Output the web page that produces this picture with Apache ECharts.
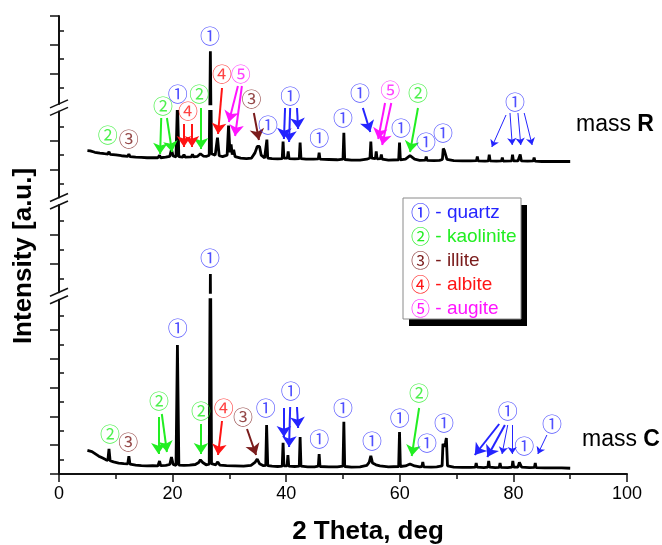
<!DOCTYPE html>
<html>
<head>
<meta charset="utf-8">
<title>XRD patterns of mass R and mass C</title>
<script src="https://cdn.jsdelivr.net/npm/echarts@6/dist/echarts.min.js"></script>
<style>
  html, body { margin: 0; padding: 0; background: #fff; }
  #chart { width: 662px; height: 545px; }
</style>
</head>
<body>
<div id="chart"></div>
<script>
const FONT = '"Liberation Sans", Arial, sans-serif';
const CIRCLE_FONT = '"Noto Sans CJK SC", "DejaVu Sans", sans-serif';

// mineral phases
const PHASES = ['quartz', 'kaolinite', 'illite', 'albite', 'augite'];
const PHASE_MARKS = ['①', '②', '③', '④', '⑤'];
const PHASE_COLORS = ['#2424ff', '#22ee22', '#7a1c1c', '#ff1414', '#ff14ff'];

// mass C diffractogram: [2 theta, intensity a.u.]
const massC = [
  [5.0, 0.82], [5.3, 0.84], [5.8, 0.78], [6.4, 0.70], [7.0, 0.62], [7.6, 0.56], [8.2, 0.50],
  [8.6, 0.47], [8.8, 0.87], [9.0, 0.46], [9.6, 0.42], [10.5, 0.38], [11.4, 0.36], [12.1, 0.35],
  [12.3, 0.62], [12.5, 0.34], [13.5, 0.31], [14.5, 0.29], [15.5, 0.28], [16.5, 0.29], [17.4, 0.28],
  [17.7, 0.45], [17.9, 0.29], [18.8, 0.30], [19.5, 0.33], [19.8, 0.59], [20.1, 0.33], [20.6, 0.30],
  [20.85, 4.48], [21.1, 0.31], [22.0, 0.30], [23.0, 0.31], [24.0, 0.33], [24.6, 0.40], [24.9, 0.49],
  [25.3, 0.40], [25.9, 0.32], [26.45, 0.34], [26.65, 8.65], [26.85, 0.36], [27.6, 0.32], [27.95, 0.42],
  [28.3, 0.31], [29.5, 0.29], [31.0, 0.28], [32.5, 0.27], [33.8, 0.30], [34.5, 0.40], [34.9, 0.52],
  [35.3, 0.36], [36.0, 0.29], [36.4, 0.30], [36.55, 1.70], [36.75, 0.29], [37.5, 0.27], [38.5, 0.26],
  [39.3, 0.27], [39.45, 1.08], [39.6, 0.28], [40.15, 0.28], [40.3, 0.66], [40.45, 0.27], [41.5, 0.26],
  [42.3, 0.27], [42.45, 1.28], [42.6, 0.27], [43.8, 0.25], [45.0, 0.25], [45.65, 0.27], [45.8, 0.69],
  [45.95, 0.26], [47.5, 0.25], [49.0, 0.25], [50.0, 0.27], [50.15, 1.81], [50.3, 0.26], [51.5, 0.24],
  [53.0, 0.25], [54.2, 0.30], [54.6, 0.40], [54.9, 0.63], [55.2, 0.38], [55.8, 0.32], [56.5, 0.28],
  [58.0, 0.25], [59.8, 0.26], [59.95, 1.46], [60.1, 0.26], [61.0, 0.28], [61.8, 0.35], [62.6, 0.28],
  [63.5, 0.25], [63.9, 0.26], [64.05, 0.42], [64.2, 0.25], [65.5, 0.24], [66.5, 0.25], [67.45, 0.28],
  [67.6, 1.05], [67.85, 0.95], [68.05, 1.10], [68.2, 1.25], [68.4, 0.28], [69.5, 0.24], [71.0, 0.23],
  [72.5, 0.23], [73.3, 0.24], [73.45, 0.38], [73.6, 0.24], [74.8, 0.22], [75.5, 0.24], [75.65, 0.45],
  [75.8, 0.24], [76.8, 0.22], [77.5, 0.23], [77.65, 0.38], [77.8, 0.23], [79.0, 0.22], [79.75, 0.24],
  [79.9, 0.45], [80.05, 0.24], [80.8, 0.24], [81.05, 0.40], [81.25, 0.42], [81.45, 0.24], [82.8, 0.22],
  [83.7, 0.23], [83.85, 0.38], [84.0, 0.22], [85.5, 0.21], [87.0, 0.21], [88.5, 0.21], [90.0, 0.20]
];

// mass R diffractogram: [2 theta, intensity a.u.], drawn shifted up by R_SHIFT
const massR = [
  [5.0, 0.66], [5.5, 0.65], [6.3, 0.60], [7.2, 0.57], [8.0, 0.55], [8.6, 0.54], [8.8, 0.62],
  [9.0, 0.53], [10.0, 0.51], [11.0, 0.48], [12.1, 0.46], [12.3, 0.54], [12.5, 0.45], [13.5, 0.43],
  [14.5, 0.42], [15.5, 0.41], [16.5, 0.41], [17.4, 0.41], [17.7, 0.49], [17.9, 0.41], [18.8, 0.43],
  [19.5, 0.46], [19.8, 0.69], [20.1, 0.47], [20.6, 0.44], [20.85, 2.3], [21.1, 0.45], [21.8, 0.43],
  [22.0, 0.52], [22.2, 0.43], [23.3, 0.44], [23.5, 0.53], [23.7, 0.44], [24.4, 0.46], [24.9, 0.55],
  [25.4, 0.47], [26.0, 0.46], [26.45, 0.50], [26.65, 4.78], [26.85, 0.55], [27.5, 0.50], [27.9, 1.11],
  [28.2, 0.48], [28.8, 0.45], [29.6, 0.50], [29.85, 1.53], [30.1, 0.60], [30.3, 0.87], [30.5, 0.52],
  [30.75, 0.69], [31.0, 0.45], [32.0, 0.40], [33.0, 0.38], [33.9, 0.40], [34.5, 0.58], [34.9, 0.80],
  [35.1, 0.76], [35.3, 0.80], [35.6, 0.50], [36.2, 0.40], [36.45, 0.42], [36.6, 1.04], [36.75, 0.40],
  [37.5, 0.38], [38.5, 0.37], [39.3, 0.38], [39.45, 0.97], [39.6, 0.40], [40.2, 0.40], [40.35, 0.63],
  [40.5, 0.38], [41.5, 0.37], [42.3, 0.38], [42.45, 0.94], [42.6, 0.38], [43.5, 0.36], [44.8, 0.36],
  [45.65, 0.37], [45.8, 0.59], [45.95, 0.36], [47.5, 0.35], [49.0, 0.34], [50.0, 0.36], [50.15, 1.28],
  [50.3, 0.35], [51.5, 0.33], [53.0, 0.33], [54.2, 0.36], [54.75, 0.40], [54.9, 0.97], [55.05, 0.40],
  [55.7, 0.38], [55.85, 0.63], [56.0, 0.37], [56.6, 0.38], [56.75, 0.52], [56.9, 0.36], [58.0, 0.33],
  [59.8, 0.34], [59.95, 0.94], [60.1, 0.34], [61.0, 0.36], [61.8, 0.48], [62.6, 0.36], [63.5, 0.32],
  [64.5, 0.33], [64.65, 0.45], [64.8, 0.32], [66.0, 0.31], [67.0, 0.32], [67.5, 0.35], [67.65, 0.73],
  [67.85, 0.66], [68.1, 0.70], [68.3, 0.35], [69.5, 0.31], [71.0, 0.30], [72.5, 0.30], [73.5, 0.31],
  [73.65, 0.45], [73.8, 0.30], [75.0, 0.29], [75.6, 0.30], [75.75, 0.52], [75.9, 0.30], [77.0, 0.29],
  [77.9, 0.30], [78.05, 0.42], [78.2, 0.29], [79.7, 0.30], [79.85, 0.52], [80.0, 0.30], [80.8, 0.30],
  [81.2, 0.52], [81.4, 0.30], [82.5, 0.29], [83.5, 0.30], [83.65, 0.42], [83.8, 0.29], [85.0, 0.28],
  [87.0, 0.28], [88.5, 0.28], [90.0, 0.28]
];
const R_SHIFT = 14;

// broken intensity axis, segments listed bottom to top
const segRanges = [[0, 6.05], [8.02, 11.05], [13.03, 16.02], [16.95, 20]];
const segMajorTicks = [[0, 1, 2, 3, 4, 5], [9, 10], [14, 15], [18, 19, 20]];
const segMinorTicks = [[0.5, 1.5, 2.5, 3.5, 4.5, 5.5], [8.5, 9.5, 10.5], [13.5, 14.5, 15.5], [17.5, 18.5, 19.5]];

// phase marks: [phase, 2 theta, height above the 2 theta axis]
const marksR = [
  [2, 8.6, 339], [3, 12.3, 335], [2, 18.3, 368], [1, 20.9, 380], [4, 22.7, 363], [2, 24.7, 380],
  [1, 26.6, 438], [4, 28.7, 400], [5, 32.0, 400], [3, 33.9, 375], [1, 36.8, 349], [1, 40.7, 378],
  [1, 45.8, 336], [1, 50.0, 356], [1, 53.0, 381], [5, 58.3, 384], [2, 63.2, 381], [1, 60.2, 346],
  [1, 64.6, 332], [1, 67.6, 341], [1, 80.3, 372]
];
const marksC = [
  [2, 9.0, 40], [3, 12.2, 32], [2, 17.6, 73], [1, 20.9, 146], [1, 26.6, 216], [2, 25.0, 63],
  [4, 29.0, 66], [3, 32.4, 57], [1, 36.4, 66], [1, 40.8, 83], [1, 45.8, 35], [1, 50.0, 66],
  [1, 55.1, 33], [1, 60.0, 56], [2, 63.4, 81], [1, 64.8, 31], [1, 67.8, 51], [1, 79.0, 63],
  [1, 81.9, 28], [1, 86.8, 50]
];

// arrows: [phase, from 2 theta, from height, to 2 theta, to height]
const arrows = [
  [2, 18.0, 356, 17.8, 320], [2, 19.0, 356, 19.9, 322], [4, 22.0, 350, 22.0, 327], [4, 23.4, 350, 23.4, 327],
  [2, 25.0, 366, 25.0, 325], [4, 28.7, 386, 28.0, 340], [5, 31.5, 388, 29.9, 352], [5, 32.2, 388, 31.0, 338],
  [3, 34.3, 361, 35.2, 334], [1, 39.8, 366, 39.6, 335], [1, 40.7, 366, 40.5, 332], [1, 41.9, 366, 42.1, 345],
  [1, 53.5, 366, 54.8, 342], [5, 57.4, 371, 56.2, 335], [5, 58.5, 371, 56.9, 329], [2, 63.2, 366, 61.8, 322],
  [2, 17.5, 57, 17.5, 20], [2, 18.1, 60, 19.0, 22], [2, 25.0, 50, 25.0, 20], [4, 28.7, 53, 28.0, 19],
  [3, 33.1, 45, 34.7, 19], [1, 39.6, 66, 39.6, 37], [1, 40.7, 67, 40.5, 27], [1, 41.9, 67, 42.1, 46],
  [2, 63.4, 66, 62.1, 18], [1, 77.5, 50, 73.2, 19], [1, 78.5, 49, 75.4, 17]
];
const thinArrows = [
  [1, 78.7, 359, 76.2, 327], [1, 79.4, 361, 79.8, 329], [1, 80.8, 361, 81.3, 329], [1, 81.9, 361, 83.3, 329],
  [1, 79.0, 49, 78.0, 20], [1, 79.8, 49, 79.8, 20], [1, 85.9, 39, 84.3, 20]
];

// layout of the plot frame
const PLOT_LEFT = 59;
const PLOT_WIDTH = 568;
const AXIS_Y = 474;
const PX_PER_UNIT = 28.8;
const BREAK_GAP = 7.5;
const OVERLAY_TOP = 16;

const segBoxes = [];
let segBottom = AXIS_Y;
segRanges.forEach(([lo, hi]) => {
  const h = (hi - lo) * PX_PER_UNIT;
  segBoxes.push({ top: segBottom - h, height: h, bottom: segBottom });
  segBottom = segBottom - h - BREAK_GAP;
});
const OVERLAY = segBoxes.length;

const grids = segBoxes.map((b) => ({
  left: PLOT_LEFT, width: PLOT_WIDTH, top: b.top, height: b.height, outerBoundsMode: 'none'
}));
grids.push({ left: PLOT_LEFT, width: PLOT_WIDTH, top: OVERLAY_TOP, height: AXIS_Y - OVERLAY_TOP, outerBoundsMode: 'none' });

const tickLine = { color: '#111', width: 1.5 };

const xAxes = segBoxes.map((b, i) => ({
  gridIndex: i,
  type: 'value',
  min: 0,
  max: 100,
  interval: 20,
  show: i === 0,
  axisLine: { onZero: false, lineStyle: { color: '#111', width: 2 } },
  axisTick: { length: 8, lineStyle: tickLine },
  minorTick: { show: true, splitNumber: 2, length: 5, lineStyle: tickLine },
  axisLabel: { fontSize: 18, color: '#000', margin: 11, fontFamily: FONT },
  splitLine: { show: false },
  name: i === 0 ? '2 Theta, deg' : '',
  nameLocation: 'middle',
  nameGap: 45,
  nameTextStyle: {
    fontSize: 26, fontWeight: 'bold', color: '#000', fontFamily: FONT, padding: [0, 0, 0, 50]
  }
}));
xAxes.push({ gridIndex: OVERLAY, type: 'value', min: 0, max: 100, show: false });

const yAxes = [];
segBoxes.forEach((b, i) => {
  const [lo, hi] = segRanges[i];
  const base = {
    gridIndex: i, type: 'value', min: lo, max: hi,
    axisLabel: { show: false }, splitLine: { show: false }
  };
  yAxes.push({
    ...base,
    axisLine: { show: true, onZero: false, lineStyle: { color: '#111', width: 2 } },
    axisTick: { show: true, length: 9, customValues: segMajorTicks[i], lineStyle: tickLine }
  });
  yAxes.push({
    ...base,
    axisLine: { show: false },
    axisTick: { show: true, length: 5, customValues: segMinorTicks[i], lineStyle: tickLine }
  });
});
yAxes.push({ gridIndex: OVERLAY, type: 'value', min: 0, max: AXIS_Y - OVERLAY_TOP, show: false });

function patternSeries(name, data, seg) {
  return {
    type: 'line',
    name,
    xAxisIndex: seg,
    yAxisIndex: 2 * seg,
    data,
    symbol: 'none',
    showSymbol: false,
    clip: true,
    lineStyle: { color: '#000', width: 2.8 },
    silent: true,
    z: 3
  };
}

const shiftedR = massR.map(([t, v]) => [t, v + R_SHIFT]);
const series = [
  patternSeries('mass C', massC, 0),
  patternSeries('mass C', massC, 1),
  patternSeries('mass R', shiftedR, 2),
  patternSeries('mass R', shiftedR, 3)
];

const allMarks = marksR.concat(marksC);

function arrowSeries(list, phase, width, size) {
  return {
    type: 'lines',
    coordinateSystem: 'cartesian2d',
    xAxisIndex: OVERLAY,
    yAxisIndex: 2 * segBoxes.length,
    symbol: ['none', 'arrow'],
    symbolSize: size,
    lineStyle: { color: PHASE_COLORS[phase], width, opacity: 1, curveness: 0 },
    data: list.filter((a) => a[0] === phase + 1).map((a) => ({ coords: [[a[1], a[2]], [a[3], a[4]]] })),
    silent: true,
    z: 4
  };
}

PHASES.forEach((name, p) => {
  series.push({
    type: 'scatter',
    name: name + ' marks',
    xAxisIndex: OVERLAY,
    yAxisIndex: 2 * segBoxes.length,
    data: allMarks.filter((m) => m[0] === p + 1).map((m) => [m[1], m[2]]),
    symbolSize: 1,
    itemStyle: { color: 'rgba(0,0,0,0)' },
    label: {
      show: true,
      position: 'inside',
      formatter: PHASE_MARKS[p],
      color: PHASE_COLORS[p],
      fontSize: 20,
      fontFamily: CIRCLE_FONT
    },
    silent: true,
    z: 5
  });
  series.push(arrowSeries(arrows, p, 2, 11));
  series.push(arrowSeries(thinArrows, p, 1, 7));
});

// break marks on the intensity axis
const breakMarks = [];
for (let i = 0; i < segBoxes.length - 1; i++) {
  [segBoxes[i].top, segBoxes[i + 1].bottom].forEach((y) => {
    breakMarks.push({
      type: 'line',
      shape: { x1: PLOT_LEFT - 9, y1: y + 4, x2: PLOT_LEFT + 9, y2: y - 4 },
      style: { stroke: '#111', lineWidth: 1.5 },
      z: 10
    });
  });
}

// legend box with hard shadow
const LEGEND_X = 403;
const LEGEND_Y = 198;
const legendItems = PHASES.map((name, p) => ({
  type: 'text',
  x: LEGEND_X + 8,
  y: LEGEND_Y + 15 + p * 24,
  style: {
    text: `{n|${PHASE_MARKS[p]}}{t| - ${name}}`,
    verticalAlign: 'middle',
    rich: {
      n: { fill: PHASE_COLORS[p], fontSize: 19, fontFamily: CIRCLE_FONT },
      t: { fill: PHASE_COLORS[p], fontSize: 19, fontFamily: FONT }
    }
  },
  z: 12
}));

const graphic = [
  ...breakMarks,
  {
    type: 'text',
    x: 24,
    y: 256,
    rotation: Math.PI / 2,
    style: {
      text: 'Intensity [a.u.]', fill: '#000', fontSize: 26, fontWeight: 'bold', fontFamily: FONT,
      align: 'center', verticalAlign: 'middle'
    }
  },
  {
    type: 'text',
    x: 576,
    y: 125,
    style: {
      text: '{a|mass }{b|R}', verticalAlign: 'middle',
      rich: { a: { fontSize: 23, fontFamily: FONT, fill: '#000' }, b: { fontSize: 23, fontWeight: 'bold', fontFamily: FONT, fill: '#000' } }
    }
  },
  {
    type: 'text',
    x: 582,
    y: 440,
    style: {
      text: '{a|mass }{b|C}', verticalAlign: 'middle',
      rich: { a: { fontSize: 23, fontFamily: FONT, fill: '#000' }, b: { fontSize: 23, fontWeight: 'bold', fontFamily: FONT, fill: '#000' } }
    }
  },
  {
    type: 'rect',
    shape: { x: LEGEND_X + 6, y: LEGEND_Y + 7, width: 118, height: 121 },
    style: { fill: '#000' },
    z: 10
  },
  {
    type: 'rect',
    shape: { x: LEGEND_X, y: LEGEND_Y, width: 118, height: 121 },
    style: { fill: '#fff', stroke: '#8a8a8a', lineWidth: 1 },
    z: 11
  },
  ...legendItems
];

const chart = echarts.init(document.getElementById('chart'));
chart.setOption({
  animation: false,
  backgroundColor: '#fff',
  grid: grids,
  xAxis: xAxes,
  yAxis: yAxes,
  series,
  graphic
});
</script>
</body>
</html>
